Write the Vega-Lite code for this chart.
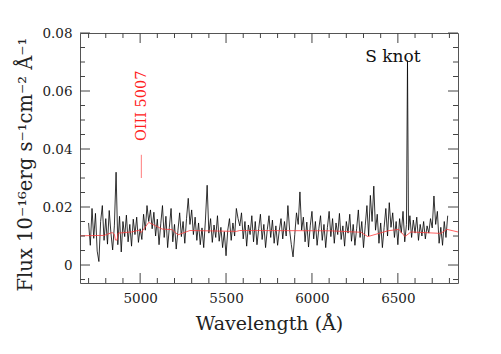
{
  "$schema": "https://vega.github.io/schema/vega-lite/v6.json",
  "autosize": "none",
  "width": 378,
  "height": 250,
  "padding": {"left": 80, "top": 33, "right": 43, "bottom": 71},
  "background": "white",
  "config": {"view": {"stroke": "#555", "strokeWidth": 1}, "font": "DejaVu Serif"},
  "datasets": {
    "xmaj": [{"w":5000},{"w":5500},{"w":6000},{"w":6500}],
    "xmin": [{"w":4700},{"w":4800},{"w":4900},{"w":5100},{"w":5200},{"w":5300},{"w":5400},{"w":5600},{"w":5700},{"w":5800},{"w":5900},{"w":6100},{"w":6200},{"w":6300},{"w":6400},{"w":6600},{"w":6700},{"w":6800}],
    "ymaj": [{"v":0},{"v":0.02},{"v":0.04},{"v":0.06},{"v":0.08}],
    "ymin": [{"v":-0.005},{"v":0.005},{"v":0.01},{"v":0.015},{"v":0.025},{"v":0.03},{"v":0.035},{"v":0.045},{"v":0.05},{"v":0.055},{"v":0.065},{"v":0.07},{"v":0.075}]
  },
  "encoding": {
    "x": {"type": "quantitative", "scale": {"domain": [4650, 6850], "nice": false, "zero": false}},
    "y": {"type": "quantitative", "scale": {"domain": [-0.0062, 0.08], "nice": false, "zero": false}}
  },
  "layer": [
    {
      "data": {"values": [
        {"w":4700,"f":0.0145},{"w":4710,"f":0.0068},{"w":4720,"f":0.0195},{"w":4730,"f":0.0092},{"w":4740,"f":0.0178},{"w":4750,"f":0.0048},{"w":4760,"f":0.0012},{"w":4770,"f":0.0150},{"w":4780,"f":0.0205},{"w":4790,"f":0.0085},
        {"w":4800,"f":0.0160},{"w":4810,"f":0.0072},{"w":4820,"f":0.0188},{"w":4830,"f":0.0110},{"w":4840,"f":0.0052},{"w":4850,"f":0.0135},{"w":4860,"f":0.0320},{"w":4870,"f":0.0070},{"w":4880,"f":0.0168},{"w":4890,"f":0.0045},
        {"w":4900,"f":0.0150},{"w":4910,"f":0.0098},{"w":4920,"f":0.0172},{"w":4930,"f":0.0080},{"w":4940,"f":0.0140},{"w":4950,"f":0.0065},{"w":4960,"f":0.0158},{"w":4970,"f":0.0105},{"w":4980,"f":0.0165},{"w":4990,"f":0.0078},
        {"w":5000,"f":0.0125},{"w":5010,"f":0.0088},{"w":5020,"f":0.0175},{"w":5030,"f":0.0120},{"w":5040,"f":0.0205},{"w":5050,"f":0.0150},{"w":5060,"f":0.0190},{"w":5070,"f":0.0125},{"w":5080,"f":0.0182},{"w":5090,"f":0.0100},
        {"w":5100,"f":0.0158},{"w":5110,"f":0.0070},{"w":5120,"f":0.0142},{"w":5130,"f":0.0205},{"w":5140,"f":0.0095},{"w":5150,"f":0.0168},{"w":5160,"f":0.0060},{"w":5170,"f":0.0130},{"w":5180,"f":0.0195},{"w":5190,"f":0.0080},
        {"w":5200,"f":0.0140},{"w":5210,"f":0.0055},{"w":5220,"f":0.0118},{"w":5230,"f":0.0180},{"w":5240,"f":0.0098},{"w":5250,"f":0.0150},{"w":5260,"f":0.0075},{"w":5270,"f":0.0160},{"w":5280,"f":0.0230},{"w":5290,"f":0.0140},
        {"w":5300,"f":0.0190},{"w":5310,"f":0.0105},{"w":5320,"f":0.0165},{"w":5330,"f":0.0085},{"w":5340,"f":0.0145},{"w":5350,"f":0.0070},{"w":5360,"f":0.0128},{"w":5370,"f":0.0060},{"w":5380,"f":0.0155},{"w":5390,"f":0.0275},
        {"w":5400,"f":0.0110},{"w":5410,"f":0.0160},{"w":5420,"f":0.0078},{"w":5430,"f":0.0138},{"w":5440,"f":0.0095},{"w":5450,"f":0.0170},{"w":5460,"f":0.0082},{"w":5470,"f":0.0130},{"w":5480,"f":0.0060},{"w":5490,"f":0.0115},
        {"w":5500,"f":0.0032},{"w":5510,"f":0.0120},{"w":5520,"f":0.0160},{"w":5530,"f":0.0085},{"w":5540,"f":0.0145},{"w":5550,"f":0.0100},{"w":5560,"f":0.0195},{"w":5570,"f":0.0160},{"w":5580,"f":0.0135},{"w":5590,"f":0.0180},
        {"w":5600,"f":0.0090},{"w":5610,"f":0.0150},{"w":5620,"f":0.0065},{"w":5630,"f":0.0138},{"w":5640,"f":0.0105},{"w":5650,"f":0.0170},{"w":5660,"f":0.0080},{"w":5670,"f":0.0150},{"w":5680,"f":0.0070},{"w":5690,"f":0.0125},
        {"w":5700,"f":0.0175},{"w":5710,"f":0.0088},{"w":5720,"f":0.0140},{"w":5730,"f":0.0060},{"w":5740,"f":0.0122},{"w":5750,"f":0.0170},{"w":5760,"f":0.0095},{"w":5770,"f":0.0155},{"w":5780,"f":0.0075},{"w":5790,"f":0.0135},
        {"w":5800,"f":0.0068},{"w":5810,"f":0.0120},{"w":5820,"f":0.0160},{"w":5830,"f":0.0090},{"w":5840,"f":0.0150},{"w":5850,"f":0.0100},{"w":5860,"f":0.0205},{"w":5870,"f":0.0120},{"w":5880,"f":0.0070},{"w":5890,"f":0.0028},
        {"w":5900,"f":0.0105},{"w":5910,"f":0.0180},{"w":5920,"f":0.0140},{"w":5930,"f":0.0252},{"w":5940,"f":0.0120},{"w":5950,"f":0.0165},{"w":5960,"f":0.0080},{"w":5970,"f":0.0148},{"w":5980,"f":0.0062},{"w":5990,"f":0.0135},
        {"w":6000,"f":0.0185},{"w":6010,"f":0.0090},{"w":6020,"f":0.0150},{"w":6030,"f":0.0068},{"w":6040,"f":0.0125},{"w":6050,"f":0.0170},{"w":6060,"f":0.0085},{"w":6070,"f":0.0140},{"w":6080,"f":0.0060},{"w":6090,"f":0.0130},
        {"w":6100,"f":0.0185},{"w":6110,"f":0.0098},{"w":6120,"f":0.0160},{"w":6130,"f":0.0075},{"w":6140,"f":0.0145},{"w":6150,"f":0.0105},{"w":6160,"f":0.0178},{"w":6170,"f":0.0088},{"w":6180,"f":0.0135},{"w":6190,"f":0.0065},
        {"w":6200,"f":0.0150},{"w":6210,"f":0.0110},{"w":6220,"f":0.0175},{"w":6230,"f":0.0082},{"w":6240,"f":0.0140},{"w":6250,"f":0.0068},{"w":6260,"f":0.0125},{"w":6270,"f":0.0190},{"w":6280,"f":0.0095},{"w":6290,"f":0.0150},
        {"w":6300,"f":0.0060},{"w":6310,"f":0.0135},{"w":6320,"f":0.0205},{"w":6330,"f":0.0100},{"w":6340,"f":0.0240},{"w":6350,"f":0.0150},{"w":6360,"f":0.0272},{"w":6370,"f":0.0120},{"w":6380,"f":0.0175},{"w":6390,"f":0.0075},
        {"w":6400,"f":0.0145},{"w":6410,"f":0.0060},{"w":6420,"f":0.0130},{"w":6430,"f":0.0195},{"w":6440,"f":0.0100},{"w":6450,"f":0.0215},{"w":6460,"f":0.0130},{"w":6470,"f":0.0180},{"w":6480,"f":0.0095},{"w":6490,"f":0.0150},
        {"w":6500,"f":0.0070},{"w":6510,"f":0.0160},{"w":6520,"f":0.0110},{"w":6530,"f":0.0185},{"w":6540,"f":0.0080},{"w":6550,"f":0.0140},{"w":6556,"f":0.0705},{"w":6562,"f":0.0120},{"w":6570,"f":0.0170},{"w":6580,"f":0.0095},{"w":6590,"f":0.0155},
        {"w":6600,"f":0.0110},{"w":6610,"f":0.0165},{"w":6620,"f":0.0085},{"w":6630,"f":0.0140},{"w":6640,"f":0.0100},{"w":6650,"f":0.0150},{"w":6660,"f":0.0090},{"w":6670,"f":0.0135},{"w":6680,"f":0.0110},{"w":6690,"f":0.0160},
        {"w":6700,"f":0.0128},{"w":6710,"f":0.0238},{"w":6720,"f":0.0140},{"w":6730,"f":0.0185},{"w":6740,"f":0.0075},{"w":6750,"f":0.0130},{"w":6760,"f":0.0068},{"w":6770,"f":0.0150},{"w":6780,"f":0.0095},{"w":6790,"f":0.0170}
      ]},
      "mark": {"type": "line", "color": "black", "strokeWidth": 0.8, "clip": true},
      "encoding": {
        "x": {"field": "w", "type": "quantitative",
          "axis": {"orient": "bottom", "title": "Wavelength (Å)", "values": [5000, 5500, 6000, 6500], "format": "d",
            "ticks": false, "domain": false, "grid": false, "labelFont": "DejaVu Serif", "labelFontSize": 13.5, "labelColor": "#222",
            "labelPadding": 8, "titleFont": "DejaVu Serif", "titleFontSize": 19, "titleFontWeight": "normal", "titleColor": "#222", "titlePadding": 10, "labelFlush": false, "labelOverlap": false}},
        "y": {"field": "f", "type": "quantitative",
          "axis": {"orient": "left", "title": "Flux  10⁻¹⁶erg s⁻¹cm⁻² Å⁻¹", "values": [0, 0.02, 0.04, 0.06, 0.08], "format": "~g",
            "ticks": false, "domain": false, "grid": false, "labelFont": "DejaVu Serif", "labelFontSize": 13.5, "labelColor": "#222",
            "labelPadding": 8, "titleFont": "DejaVu Serif", "titleFontSize": 19.5, "titleFontWeight": "normal", "titleColor": "#222", "titlePadding": 6, "titleY": 131, "labelFlush": false, "labelOverlap": false}}
      }
    },
    {
      "data": {"values": [
        {"w":4650,"c":0.0101},{"w":4790,"c":0.0102},{"w":4837,"c":0.0112},{"w":4850,"c":0.0106},{"w":4856,"c":0.0086},{"w":4866,"c":0.0086},{"w":4872,"c":0.0110},{"w":4950,"c":0.0114},{"w":4994,"c":0.0120},{"w":5006,"c":0.0112},
        {"w":5050,"c":0.0147},{"w":5128,"c":0.0124},{"w":5186,"c":0.0122},{"w":5220,"c":0.0104},{"w":5290,"c":0.0119},{"w":5560,"c":0.0116},{"w":5580,"c":0.0119},{"w":6100,"c":0.0118},{"w":6285,"c":0.0113},{"w":6325,"c":0.0098},
        {"w":6442,"c":0.0118},{"w":6506,"c":0.0123},{"w":6541,"c":0.0098},{"w":6576,"c":0.0114},{"w":6750,"c":0.0109},{"w":6785,"c":0.0123},{"w":6850,"c":0.0114}
      ]},
      "mark": {"type": "line", "color": "#ff3b3b", "strokeWidth": 0.8, "clip": true},
      "encoding": {"x": {"field": "w"}, "y": {"field": "c"}}
    },
    {
      "data": {"name": "xmaj"},
      "mark": {"type": "rule", "color": "#444", "strokeWidth": 1, "y2Offset": -10},
      "encoding": {"x": {"field": "w"}, "y": {"datum": -0.0062}, "y2": {"datum": -0.0062}}
    },
    {
      "data": {"name": "xmin"},
      "mark": {"type": "rule", "color": "#444", "strokeWidth": 1, "y2Offset": -5},
      "encoding": {"x": {"field": "w"}, "y": {"datum": -0.0062}, "y2": {"datum": -0.0062}}
    },
    {
      "data": {"name": "xmaj"},
      "mark": {"type": "rule", "color": "#444", "strokeWidth": 1, "y2Offset": 10},
      "encoding": {"x": {"field": "w"}, "y": {"datum": 0.08}, "y2": {"datum": 0.08}}
    },
    {
      "data": {"name": "xmin"},
      "mark": {"type": "rule", "color": "#444", "strokeWidth": 1, "y2Offset": 5},
      "encoding": {"x": {"field": "w"}, "y": {"datum": 0.08}, "y2": {"datum": 0.08}}
    },
    {
      "data": {"name": "ymaj"},
      "mark": {"type": "rule", "color": "#444", "strokeWidth": 1, "x2Offset": 10},
      "encoding": {"y": {"field": "v"}, "x": {"datum": 4650}, "x2": {"datum": 4650}}
    },
    {
      "data": {"name": "ymin"},
      "mark": {"type": "rule", "color": "#444", "strokeWidth": 1, "x2Offset": 5},
      "encoding": {"y": {"field": "v"}, "x": {"datum": 4650}, "x2": {"datum": 4650}}
    },
    {
      "data": {"name": "ymaj"},
      "mark": {"type": "rule", "color": "#444", "strokeWidth": 1, "x2Offset": -10},
      "encoding": {"y": {"field": "v"}, "x": {"datum": 6850}, "x2": {"datum": 6850}}
    },
    {
      "data": {"name": "ymin"},
      "mark": {"type": "rule", "color": "#444", "strokeWidth": 1, "x2Offset": -5},
      "encoding": {"y": {"field": "v"}, "x": {"datum": 6850}, "x2": {"datum": 6850}}
    },
    {
      "data": {"values": [{"w": 5007, "lo": 0.030, "hi": 0.038}]},
      "mark": {"type": "rule", "color": "#ff5a5a", "strokeWidth": 0.8},
      "encoding": {"x": {"field": "w"}, "y": {"field": "lo"}, "y2": {"field": "hi"}}
    },
    {
      "data": {"values": [{"w": 5010, "f": 0.0549, "t": "OIII 5007"}]},
      "mark": {"type": "text", "color": "#ff2020", "font": "DejaVu Serif", "fontSize": 14.5, "angle": 270, "align": "center", "baseline": "middle"},
      "encoding": {"x": {"field": "w"}, "y": {"field": "f"}, "text": {"field": "t"}}
    },
    {
      "data": {"values": [{"w": 6471, "f": 0.0718, "t": "S knot"}]},
      "mark": {"type": "text", "color": "#111", "font": "DejaVu Serif", "fontSize": 17, "align": "center", "baseline": "middle"},
      "encoding": {"x": {"field": "w"}, "y": {"field": "f"}, "text": {"field": "t"}}
    }
  ]
}
